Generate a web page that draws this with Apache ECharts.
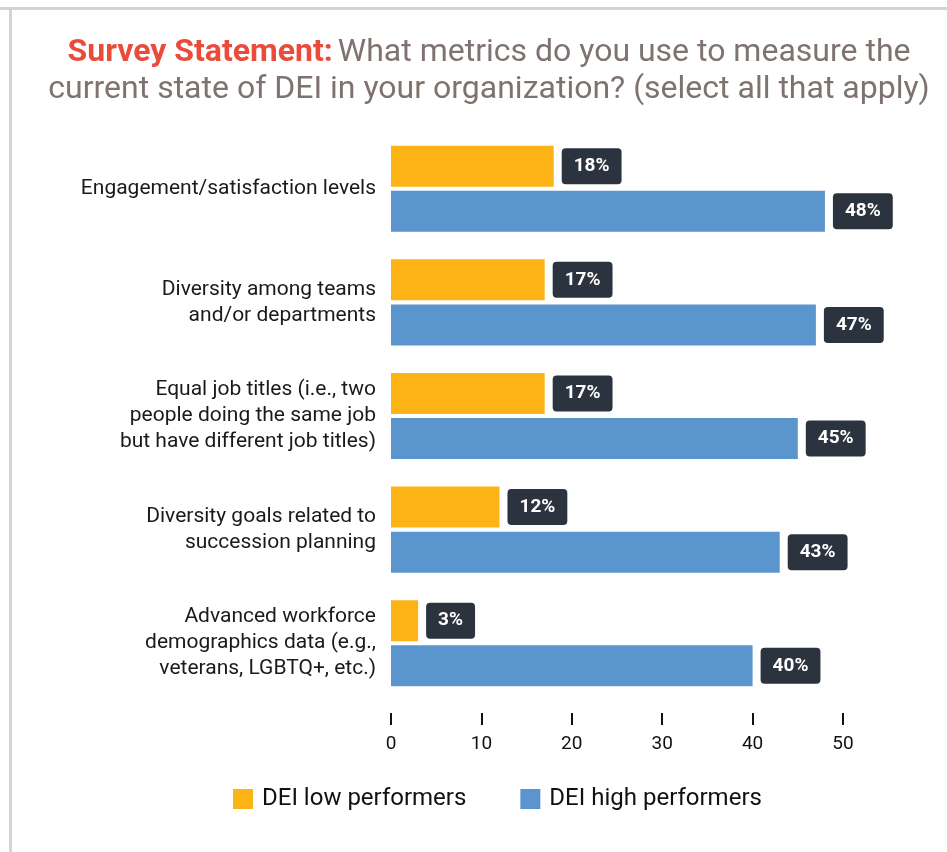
<!DOCTYPE html>
<html>
<head>
<meta charset="UTF-8">
<title>DEI metrics</title>
<style>
  html, body { margin: 0; padding: 0; background: #fff; }
  #chart { width: 947px; height: 852px; }
</style>
</head>
<body>
<div id="chart"></div>
<script src="https://cdn.jsdelivr.net/npm/echarts@6/dist/echarts.min.js"></script>
<script>
var categories = [
  'Engagement/satisfaction levels',
  'Diversity among teams\nand/or departments',
  'Equal job titles (i.e., two\npeople doing the same job\nbut have different job titles)',
  'Diversity goals related to\nsuccession planning',
  'Advanced workforce\ndemographics data (e.g.,\nveterans, LGBTQ+, etc.)'
];
var lowPerformers = [18, 17, 17, 12, 3];
var highPerformers = [48, 47, 45, 43, 40];
var xTicks = [0, 10, 20, 30, 40, 50];

var chart = echarts.init(document.getElementById('chart'));

var valueLabel = {
  show: true,
  position: 'right',
  distance: 8,
  formatter: '{c}%',
  color: '#fff',
  fontFamily: 'Roboto',
  fontWeight: 'bold',
  fontSize: 19,
  backgroundColor: '#2b333e',
  borderRadius: 4,
  padding: [9, 12, 8, 12]
};

chart.setOption({
  animation: false,
  title: {
    text: '{red|Survey Statement:} {gray|What metrics do you use to measure the}\n{gray|current state of DEI in your organization? (select all that apply)}',
    left: 484,
    textAlign: 'center',
    top: 29,
    textStyle: {
      rich: {
        red: { color: '#ea4b3b', fontWeight: 'bold', fontSize: 32, fontFamily: 'Roboto', lineHeight: 37 },
        gray: { color: '#7f7370', fontWeight: 'normal', fontSize: 32, fontFamily: 'Roboto', lineHeight: 37 }
      }
    }
  },
  graphic: [
    { type: 'rect', shape: { x: 0, y: 7, width: 947, height: 3 }, style: { fill: '#d9d2d2' } },
    { type: 'rect', shape: { x: 9, y: 7, width: 3, height: 845 }, style: { fill: '#d9d2d2' } }
  ],
  legend: {
    top: 782,
    left: 228,
    itemWidth: 20,
    itemHeight: 20,
    itemGap: 54,
    icon: 'rect',
    textStyle: { fontFamily: 'Roboto', fontSize: 24, color: '#111', padding: [0, 0, 0, 4] },
    data: ['DEI low performers', 'DEI high performers']
  },
  grid: { left: 391, right: 104, top: 132, bottom: 152 },
  xAxis: {
    type: 'value',
    min: 0,
    max: 50,
    interval: 10,
    offset: 13,
    splitLine: { show: false },
    axisLine: { show: false },
    axisTick: { show: true, length: 12, lineStyle: { color: '#111', width: 2 } },
    axisLabel: {
      color: '#111',
      fontFamily: 'Roboto',
      fontSize: 19,
      margin: 22,
      formatter: function (v) { return xTicks.indexOf(v) >= 0 ? String(v) : ''; }
    }
  },
  yAxis: {
    type: 'category',
    inverse: true,
    data: categories,
    axisLine: { show: false },
    axisTick: { show: false },
    axisLabel: {
      color: '#1a1a1a',
      fontFamily: 'Roboto',
      fontSize: 21,
      lineHeight: 26,
      margin: 15,
      align: 'right'
    }
  },
  series: [
    {
      name: 'DEI low performers',
      type: 'bar',
      data: lowPerformers,
      barWidth: 41,
      barGap: '10%',
      itemStyle: { color: '#fdb316' },
      label: valueLabel
    },
    {
      name: 'DEI high performers',
      type: 'bar',
      data: highPerformers,
      barWidth: 41,
      barGap: '10%',
      itemStyle: { color: '#5b95cd' },
      label: valueLabel
    }
  ]
});
</script>
</body>
</html>
